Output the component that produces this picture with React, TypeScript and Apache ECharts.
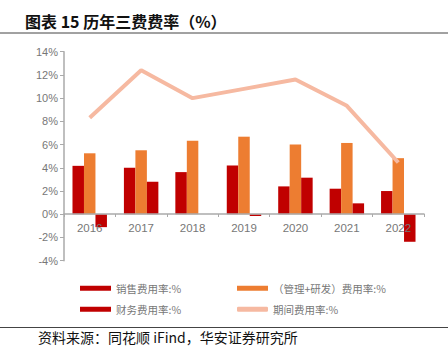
import React, { useEffect, useRef } from "react";
import * as echarts from "echarts";

const categories = ["2016", "2017", "2018", "2019", "2020", "2021", "2022"];
const salesRate = [4.17, 4.0, 3.63, 4.2, 2.4, 2.2, 2.0];
const mgmtRdRate = [5.25, 5.51, 6.34, 6.68, 6.0, 6.14, 4.83];
const financeRate = [-1.11, 2.8, 0.0, -0.15, 3.15, 0.94, -2.37];
const periodRate = [8.31, 12.4, 10.0, 10.8, 11.6, 9.34, 4.46];
const seriesNames = ["销售费用率:%", "（管理+研发）费用率:%", "财务费用率:%", "期间费用率:%"];

const FONT = "'Noto Sans CJK SC', 'Liberation Sans', sans-serif";
const AXFONT = "'Liberation Sans', Arial, sans-serif";

export default function App() {
  const ref = useRef<HTMLDivElement>(null);
  useEffect(() => {
    const chart = echarts.init(ref.current!, null, { renderer: "svg" });
    const legendText = { color: "#777", fontSize: 10.5, fontFamily: FONT };
    const mkLegend = (name: string, left: number, top: number, icon: string) => ({
      data: [name],
      left,
      top,
      itemWidth: 31,
      itemHeight: 5,
      itemGap: 0,
      padding: 0,
      icon,
      textStyle: legendText,
      selectedMode: false,
    });
    chart.setOption({
      animation: false,
      backgroundColor: "#fff",
      title: {
        text: "图表 15 历年三费费率（%）",
        left: 25,
        top: 13,
        padding: 0,
        textStyle: { fontSize: 16, fontWeight: "bold", color: "#111", fontFamily: FONT },
      },
      graphic: [
        { type: "line", shape: { x1: 0, y1: 33, x2: 448, y2: 33 }, style: { stroke: "#444", lineWidth: 1 } },
        { type: "line", shape: { x1: 0, y1: 327.5, x2: 448, y2: 327.5 }, style: { stroke: "#444", lineWidth: 1 } },
        {
          type: "text",
          x: 38,
          y: 337,
          style: {
            text: "资料来源：同花顺 iFind，华安证券研究所",
            fontSize: 14,
            fill: "#111",
            fontFamily: FONT,
            verticalAlign: "middle",
          },
        },
      ],
      legend: [
        mkLegend(seriesNames[0], 80, 283, "rect"),
        mkLegend(seriesNames[1], 237, 283, "rect"),
        mkLegend(seriesNames[2], 80, 304, "rect"),
        mkLegend(seriesNames[3], 237, 304, "roundRect"),
      ],
      grid: { left: 64, right: 24, top: 51.7, bottom: 95.3 },
      xAxis: {
        type: "category",
        data: categories,
        position: "bottom",
        offset: -46.7,
        z: 10,
        axisLine: { onZero: false, lineStyle: { color: "#aaa", width: 1.5 } },
        axisTick: { show: true, length: 3, lineStyle: { color: "#aaa" } },
        axisLabel: { color: "#777", fontSize: 11.5, fontFamily: AXFONT, margin: 8 },
      },
      yAxis: {
        type: "value",
        min: -4,
        max: 14,
        interval: 2,
        axisLine: { show: true, lineStyle: { color: "#aaa", width: 1.5 } },
        axisTick: { show: true, length: 4, lineStyle: { color: "#aaa" } },
        splitLine: { show: false },
        axisLabel: { color: "#777", fontSize: 11, fontFamily: AXFONT, formatter: "{value}%", margin: 6 },
      },
      series: [
        { name: seriesNames[0], type: "bar", data: salesRate, barGap: "0%", barCategoryGap: "33%", itemStyle: { color: "#C00000" } },
        { name: seriesNames[1], type: "bar", data: mgmtRdRate, itemStyle: { color: "#ED7D31" } },
        { name: seriesNames[2], type: "bar", data: financeRate, itemStyle: { color: "#C00000" } },
        {
          name: seriesNames[3],
          type: "line",
          data: periodRate,
          symbol: "none",
          lineStyle: { color: "#F6B9A1", width: 4 },
          itemStyle: { color: "#F6B9A1" },
          z: 5,
        },
      ],
    });
    return () => chart.dispose();
  }, []);
  return <div ref={ref} style={{ position: "fixed", left: 0, top: 0, width: 448, height: 356 }} />;
}
